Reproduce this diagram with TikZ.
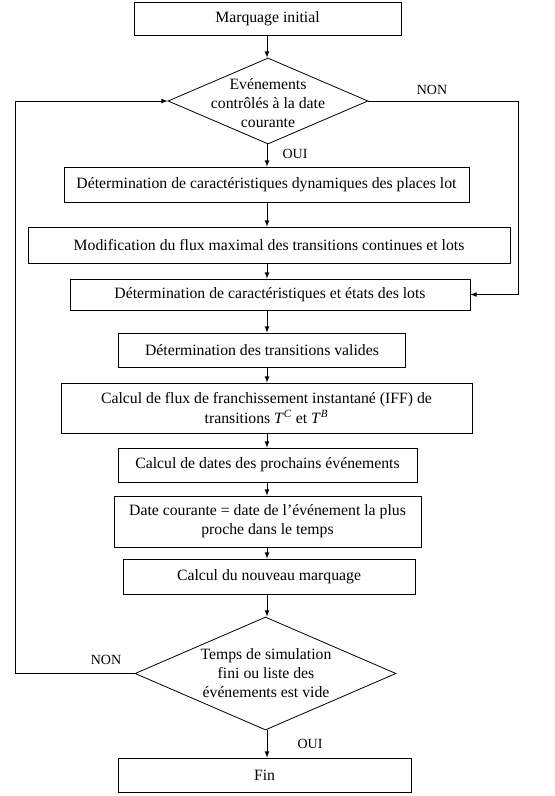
\documentclass[tikz,border=0pt]{standalone}
\usepackage{fontspec}
\setmainfont{Liberation Serif}
\usepackage{tikz}
\usetikzlibrary{calc,shapes.geometric}
\def\px{*0.75pt}
\tikzset{
	etape/.style={draw, line width=0.6pt, inner sep=0pt, align=center, font=\fontsize{11.8}{14.5}\selectfont},
	choix/.style={draw, line width=0.6pt, shape=diamond, inner sep=0pt},
	texte/.style={align=center, inner sep=0pt, font=\fontsize{11.8}{14.5}\selectfont},
	reponse/.style={inner sep=0pt, font=\fontsize{10.5}{12}\selectfont},
	fleche/.style={line width=0.6pt, -latex},
}

\begin{document}
\begin{tikzpicture}[x=0.75pt, y=0.75pt]
			%%%%% START %%%%%
			\useasboundingbox (0, 0) rectangle (555, -796);
			\coordinate (axe) at (267, 0);
			
			\node[etape, minimum width=267\px, minimum height=33\px] (init) at (267.5, -18.5) {Marquage initial};
			
			\node[choix, minimum width=200\px, minimum height=86\px] (ctrl) at (268, -101) {};
			\node[texte] (ctrlt) at (268, -103) {Evénements\\contrôlés à la date\\courante};
			
			\node[etape, minimum width=405\px, minimum height=35\px] (dyn) at (266.5, -184.5) {Détermination de caractéristiques dynamiques des places lot};
			\node[etape, minimum width=482\px, minimum height=36\px] (flux) at (269, -245) {Modification du flux maximal des transitions continues et lots};
			\node[etape, minimum width=400\px, minimum height=31\px] (etat) at (270, -294.5) {Détermination de caractéristiques et états des lots};
			\node[etape, minimum width=287\px, minimum height=34\px] (valid) at (262, -350) {Détermination des transitions valides};
			\node[etape, minimum width=411\px, minimum height=50\px] (iff) at (266.5, -408) {Calcul de flux de franchissement instantané (IFF) de\\transitions \textit{T}\textsuperscript{\textit{C}} et \textit{T}\textsuperscript{\textit{B}}};
			\node[etape, minimum width=299\px, minimum height=34\px] (dates) at (267.5, -465) {Calcul de dates des prochains événements};
			\node[etape, minimum width=307\px, minimum height=51\px] (cour) at (267.5, -521.5) {Date courante = date de l’événement la plus\\proche dans le temps};
			\node[etape, minimum width=292\px, minimum height=35\px] (marq) at (269, -576.5) {Calcul du nouveau marquage};
			
			\node[choix, minimum width=261\px, minimum height=113\px] (simu) at (265.5, -673.5) {};
			\node[texte] (simut) at (266, -673) {Temps de simulation\\fini ou liste des\\événements est vide};
			
			\node[etape, minimum width=293\px, minimum height=34\px] (fin) at (264.5, -775) {Fin};
			
			\foreach \a/\b in {init/ctrl, ctrl/dyn, dyn/flux, flux/etat, etat/valid, valid/iff, iff/dates, dates/cour, cour/marq, marq/simu, simu/fin}
				\draw[fleche] (\a.south -| axe) -- (\b.north -| axe);
			
			\draw[fleche] (ctrl.east) -- ++(150, 0) |- (etat.east);
			\draw[fleche] (simu.west) -- ++(-119, 0) |- (ctrl.west);
			
			\node[reponse] (non1) at (432, -90) {NON};
			\node[reponse] (oui1) at (295, -154) {OUI};
			\node[reponse] (non2) at (106, -660) {NON};
			\node[reponse] (oui2) at (310, -744) {OUI};
			%%%%% END %%%%%
\end{tikzpicture}
\end{document}
